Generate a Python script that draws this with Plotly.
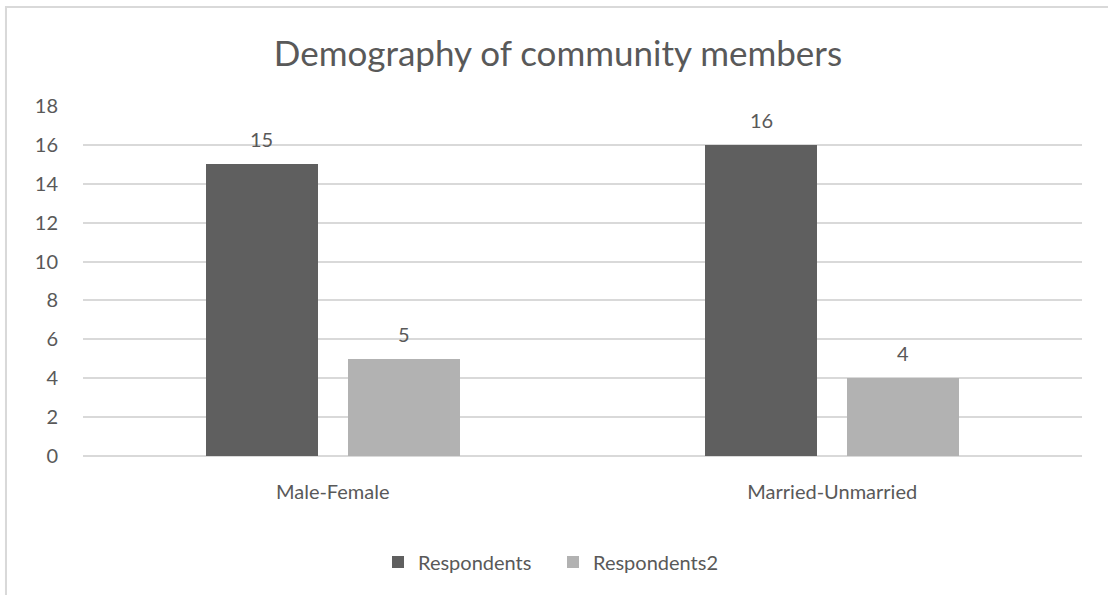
import plotly.graph_objects as go

# Chart data
categories = ["Male-Female", "Married-Unmarried"]
respondents = [15, 16]
respondents2 = [5, 4]
y_ticks = [0, 2, 4, 6, 8, 10, 12, 14, 16, 18]

TEXT = "#595959"
GRID = "#d9d9d9"
FONT = "Lato, 'Open Sans', sans-serif"
BAR_W = 0.224

fig = go.Figure()
fig.add_trace(go.Bar(
    x=categories, y=respondents, name="Respondents",
    marker=dict(color="#5f5f5f", line=dict(width=0)),
    width=BAR_W, offset=-0.254,
))
fig.add_trace(go.Bar(
    x=categories, y=respondents2, name="Respondents2",
    marker=dict(color="#b2b2b2", line=dict(width=0)),
    width=BAR_W, offset=0.030,
))

# value labels above each bar
annotations = []
for cat, v1, v2 in zip(categories, respondents, respondents2):
    for val, shift in ((v1, -71), (v2, 71)):
        annotations.append(dict(
            x=cat, y=val, xref="x", yref="y", text=str(val),
            showarrow=False, xshift=shift, yshift=25, yanchor="middle",
            font=dict(size=20, color=TEXT, family=FONT),
        ))

fig.update_layout(
    width=1108, height=595,
    margin=dict(l=83, r=26, t=106, b=139),
    paper_bgcolor="white", plot_bgcolor="white",
    font=dict(family=FONT, color=TEXT, size=20),
    title=dict(
        text="Demography of community members",
        x=0.5036, xanchor="center", y=0.909, yanchor="middle",
        font=dict(size=35, color=TEXT, family=FONT),
    ),
    bargap=0, bargroupgap=0,
    showlegend=True,
    legend=dict(
        orientation="h", x=0.2953, xanchor="left", y=-0.303, yanchor="middle",
        font=dict(size=20, color=TEXT, family=FONT),
        itemwidth=30, entrywidth=130, entrywidthmode="pixels",
        traceorder="normal",
    ),
    annotations=annotations,
    shapes=[dict(
        type="rect", xref="paper", yref="paper",
        x0=-0.0771, x1=1.03, y0=-0.42, y1=1.2829,
        line=dict(color=GRID, width=2), fillcolor="rgba(0,0,0,0)", layer="below",
    )],
)

fig.update_xaxes(
    showgrid=False, showline=False, zeroline=False,
    tickfont=dict(size=20, color=TEXT), ticks="", ticklabelstandoff=22,
)
fig.update_yaxes(
    range=[0, 18], tickvals=y_ticks, showgrid=True, gridcolor=GRID, gridwidth=1.5,
    zeroline=True, zerolinecolor=GRID, zerolinewidth=1.5, showline=False,
    tickfont=dict(size=20, color=TEXT), ticks="", ticklabelstandoff=24,
)

fig.write_html("out.html")
